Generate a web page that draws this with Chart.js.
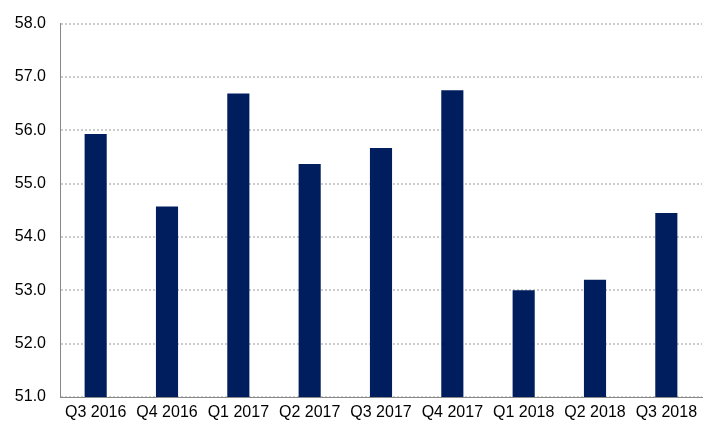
<!DOCTYPE html>
<html><head><meta charset="utf-8">
<script src="https://cdn.jsdelivr.net/npm/chart.js@4/dist/chart.umd.min.js"></script>
<style>html,body{margin:0;padding:0;background:#fff}#wrap{width:725px;height:440px}</style>
</head><body><div id="wrap"><canvas id="c" width="725" height="440"></canvas></div>
<script>
const categories = ["Q3 2016","Q4 2016","Q1 2017","Q2 2017","Q3 2017","Q4 2017","Q1 2018","Q2 2018","Q3 2018"];
const values = [55.93, 54.57, 56.69, 55.37, 55.67, 56.75, 53.00, 53.20, 54.45];
const yMin = 51, yMax = 58, yStep = 1;

new Chart(document.getElementById('c'), {
  type: 'bar',
  data: { labels: categories, datasets: [{ data: values, backgroundColor: '#001E5E', borderWidth: 0, barPercentage: 0.31, categoryPercentage: 1.0 }] },
  options: {
    responsive: false, animation: false, devicePixelRatio: 1,
    layout: { padding: { left: 0, right: 23, top: 14, bottom: 0 } },
    plugins: { legend: { display: false }, tooltip: { enabled: false } },
    scales: {
      x: {
        grid: { display: false, drawTicks: false },
        border: { display: true, color: '#888888', width: 1 },
        ticks: { color: '#000', font: { family: 'Liberation Sans', size: 16 }, padding: 6, maxRotation: 0, autoSkip: false },
        afterFit: s => { s.height = 43; }
      },
      y: {
        min: yMin, max: yMax,
        grid: { color: '#cccccc', lineWidth: 2, drawTicks: false },
        border: { display: true, color: '#888888', width: 1, dash: [2, 2] },
        ticks: { stepSize: yStep, color: '#000', font: { family: 'Liberation Sans', size: 16 }, padding: 14, callback: v => v.toFixed(1) },
        afterFit: s => { s.width = 60; }
      }
    }
  }
});
</script>
</body></html>
